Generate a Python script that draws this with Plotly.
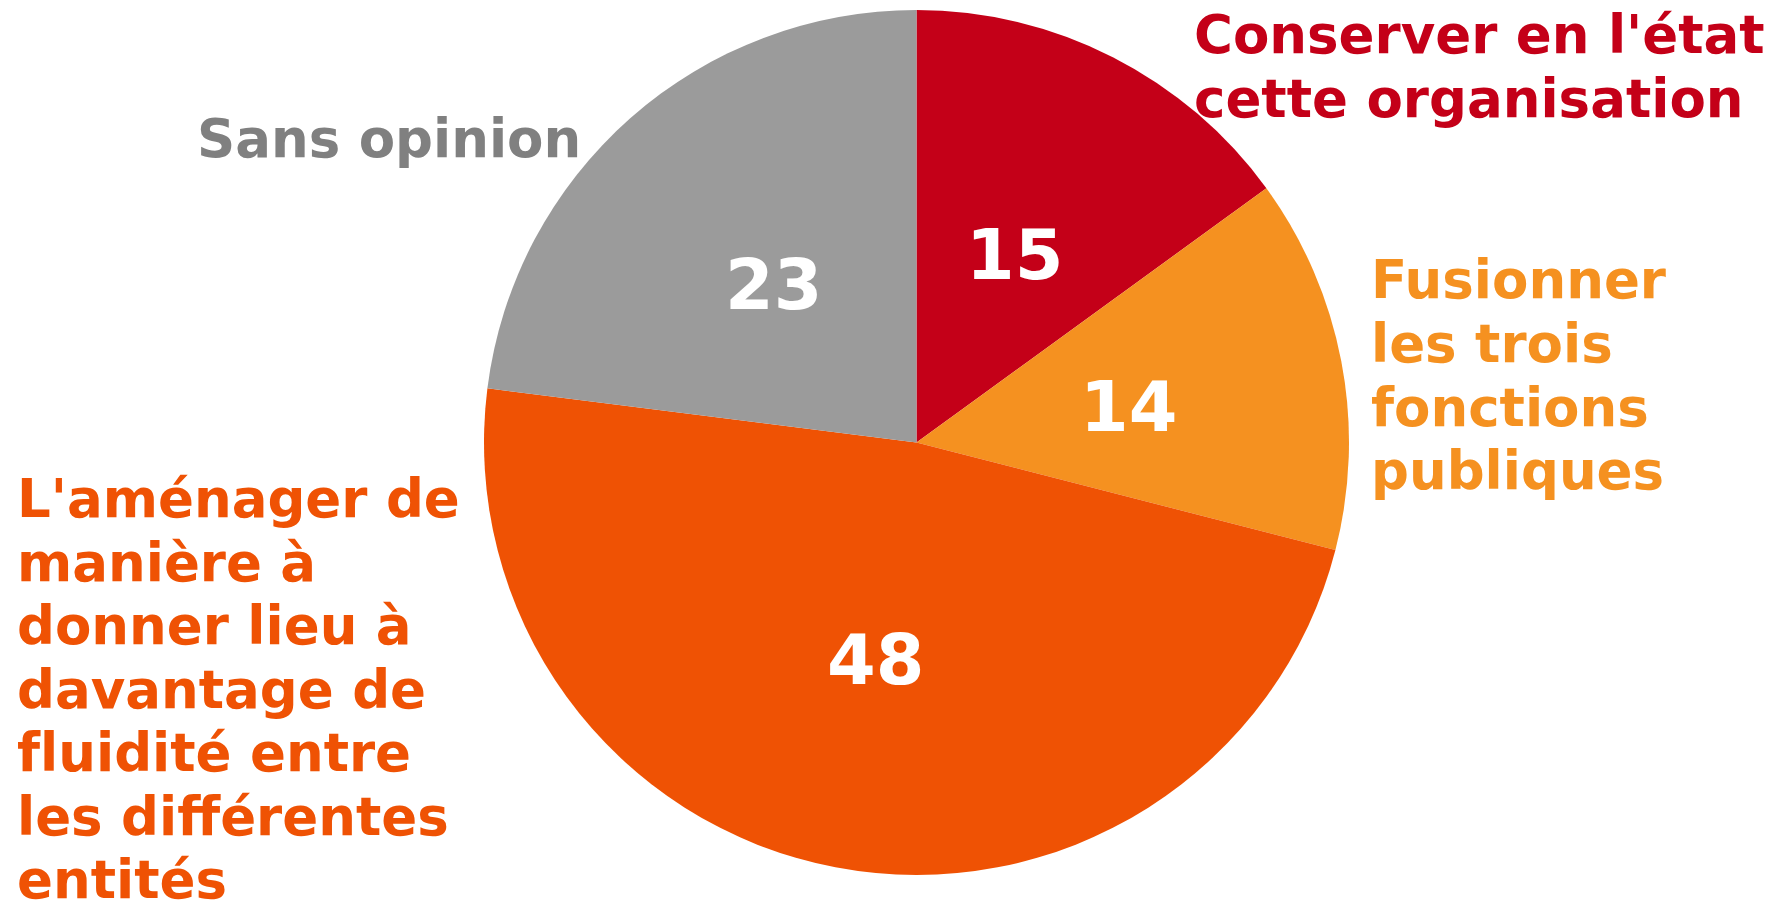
import math
import plotly.graph_objects as go

labels = ["Conserver en l'état cette organisation", "Fusionner les trois fonctions publiques",
          "L'aménager de manière à donner lieu à davantage de fluidité entre les différentes entités",
          "Sans opinion"]
values = [15, 14, 48, 23]
slice_colors = ["#C40018", "#F59120", "#EF5204", "#9B9B9B"]
label_colors = ["#C40018", "#F59120", "#EF5204", "#808080"]
label_lines = [
    ["Conserver en l'état", "cette organisation"],
    ["Fusionner", "les trois", "fonctions", "publiques"],
    ["L'aménager de", "manière à", "donner lieu à", "davantage de", "f\u200Cluidité entre",
     "les différentes", "entités"],
    ["Sans opinion"],
]

OFF = 8  # browser body margin
W, H = 1778 - OFF, 902 - OFF
FONT = "DejaVu Sans"
FS = 53

def px(x):
    return (x - OFF) / W

def py(y):
    return 1 - (y - OFF) / H

# label block placement (left x px, first baseline px, line step px) in page pixels
label_pos = [(1195, 53, 64), (1372, 298, 63.7), (18, 517, 63.5), (198, 157, 64)]

cx, cy, r = 916.5, 442.5, 432.5

fig = go.Figure(go.Pie(
    labels=labels, values=values, sort=False, direction="clockwise", rotation=0,
    marker=dict(colors=slice_colors, line=dict(width=0)),
    textinfo="none",
    showlegend=False, hoverinfo="label+value",
    domain=dict(x=[px(cx - r), px(cx + r)], y=[py(cy + r), py(cy - r)]),
))

annotations = []
# value labels at half radius, mid-angle of each slice
total = sum(values)
cum = 0
for v in values:
    ang = (cum + v / 2) / total * 2 * math.pi
    cum += v
    x = cx + 0.5 * r * math.sin(ang)
    y = cy - 0.5 * r * math.cos(ang) + 5
    annotations.append(dict(
        text="<b>%d</b>" % v, x=px(x), y=py(y), xref="paper", yref="paper",
        xanchor="center", yanchor="middle", showarrow=False,
        font=dict(family=FONT, size=70, color="white"),
    ))

for lines, (x0, b0, step), col in zip(label_lines, label_pos, label_colors):
    for i, line in enumerate(lines):
        b = b0 + i * step
        annotations.append(dict(
            text="<b>" + line + "</b>", x=px(x0 - 3), y=py(b - 0.346 * FS),
            xref="paper", yref="paper", xanchor="left", yanchor="middle",
            showarrow=False, font=dict(family=FONT, size=FS, color=col),
        ))

fig.update_layout(
    width=W, height=H, margin=dict(l=0, r=0, t=0, b=0),
    paper_bgcolor="white", plot_bgcolor="white",
    annotations=annotations,
)
fig.write_html("out.html")
